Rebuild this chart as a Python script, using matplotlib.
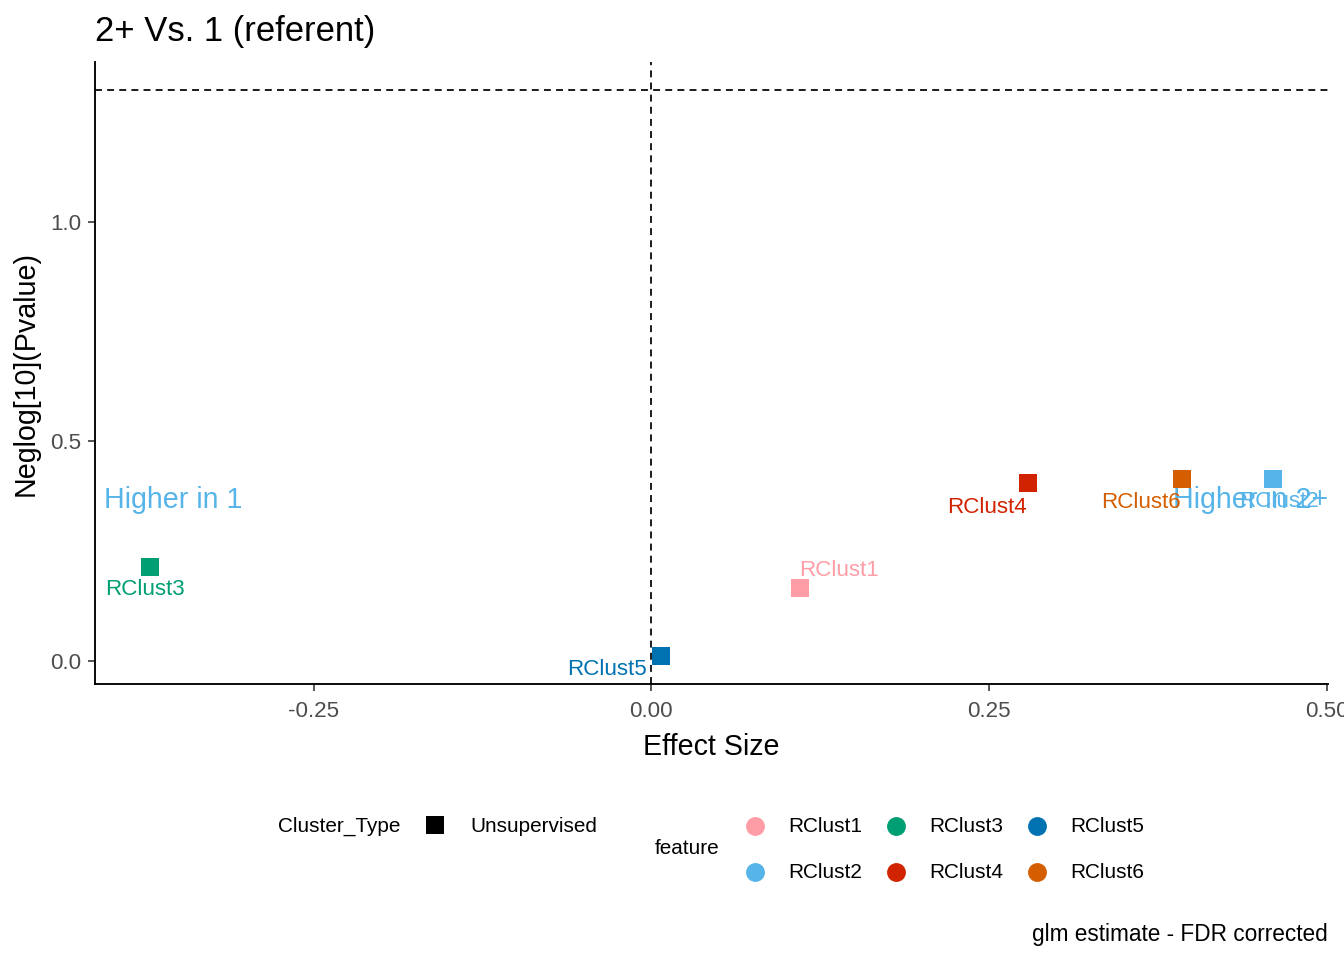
import matplotlib
matplotlib.use("Agg")
import matplotlib.pyplot as plt

plt.rcParams['font.family'] = ['Liberation Sans', 'DejaVu Sans']

features = ["RClust1", "RClust2", "RClust3", "RClust4", "RClust5", "RClust6"]
effect = [0.110, 0.460, -0.371, 0.279, 0.007, 0.393]
neglogp = [0.166, 0.415, 0.214, 0.405, 0.011, 0.415]
colors = ["#FF9DA7", "#56B4E9", "#009E73", "#D22300", "#0072B2", "#D55E00"]
# label offsets (points) mimic repel placement
label_offsets = [(29, 13.5), (4.5, -17), (-4, -17), (-31, -18), (-40, -10), (-31, -18)]

title = "2+ Vs. 1 (referent)"
xlabel = "Effect Size"
ylabel = "Neglog[10](Pvalue)"
caption = "glm estimate - FDR corrected"
xticks = [-0.25, 0.0, 0.25, 0.50]
xticklabels = ["-0.25", "0.00", "0.25", "0.50"]
yticks = [0.0, 0.5, 1.0]
yticklabels = ["0.0", "0.5", "1.0"]
sig_line = 1.30103

W, H = 1344, 960
fig = plt.figure(figsize=(W / 96, H / 96), dpi=96)
ax = fig.add_axes([95 / W, 1 - 684 / H, (1328 - 95) / W, (684 - 62) / H])
ax.set_xlim(-0.4119, 0.501)
ax.set_ylim(-0.0524, 1.364)

ax.axhline(sig_line, color="black", ls=(0, (4, 3)), lw=1.3, zorder=1)
ax.axvline(0, color="black", ls=(0, (4, 3)), lw=1.3, zorder=1)

for f, x, y, c, off in zip(features, effect, neglogp, colors, label_offsets):
    ax.scatter([x], [y], marker="s", s=190, color=c, zorder=3, linewidths=0)
    ax.annotate(f, (x, y), xytext=off, textcoords="offset points",
                ha="center", va="center", color=c, fontsize=16.8, zorder=4)

ax.text(-0.354, 0.366, "Higher in 1", color="#56B4E9", fontsize=21.5,
        ha="center", va="center")
ax.text(0.444, 0.366, "Higher in 2+", color="#56B4E9", fontsize=21.5,
        ha="center", va="center")

for s in ["top", "right"]:
    ax.spines[s].set_visible(False)
for s in ["left", "bottom"]:
    ax.spines[s].set_linewidth(1.4)
    ax.spines[s].set_color("black")
ax.set_xticks(xticks)
ax.set_xticklabels(xticklabels)
ax.set_yticks(yticks)
ax.set_yticklabels(yticklabels)
ax.tick_params(axis="both", length=5, width=1.2, color="#333333",
               labelcolor="#4D4D4D", labelsize=16.8, pad=5)
ax.tick_params(axis="x", pad=8)
ax.set_xlabel(xlabel, fontsize=21.5, labelpad=8)
ax.set_ylabel(ylabel, fontsize=21.5, labelpad=8)

fig.text(95 / W, 1 - 31 / H, title, fontsize=26, ha="left", va="center")
fig.text(1328 / W, 1 - 934 / H, caption, fontsize=17, ha="right", va="center")

# legend drawn in pixel coordinates
lax = fig.add_axes([0, 0, 1, 1], facecolor="none")
lax.set_xlim(0, W)
lax.set_ylim(H, 0)
lax.axis("off")

lax.text(278, 826, "Cluster_Type", fontsize=15.6, ha="left", va="center")
lax.scatter([435], [825], marker="s", s=190, color="black", linewidths=0)
lax.text(470, 826, "Unsupervised", fontsize=15.6, ha="left", va="center")

lax.text(655, 849, "feature", fontsize=15.6, ha="left", va="center")
col_x = [755, 896, 1037]
row_y = [826, 872]
for i, (f, c) in enumerate(zip(features, colors)):
    cx = col_x[i // 2]
    cy = row_y[i % 2]
    lax.scatter([cx], [cy], marker="o", s=200, color=c, linewidths=0)
    lax.text(cx + 33, cy, f, fontsize=15.6, ha="left", va="center")

fig.savefig("out.png", dpi=96, facecolor="white")
